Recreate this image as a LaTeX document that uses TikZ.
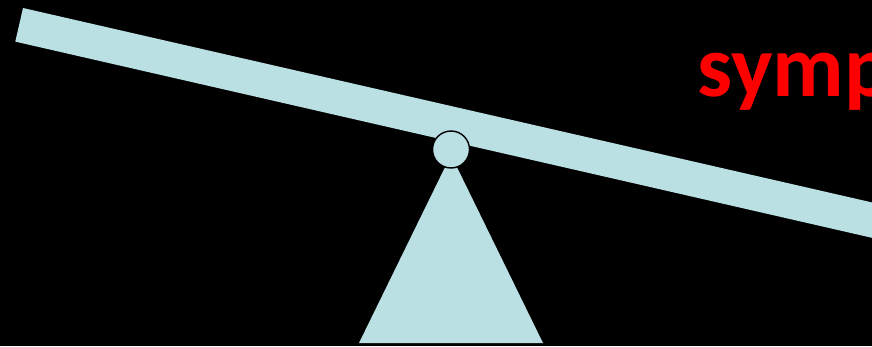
\documentclass[tikz,border=0pt]{standalone}
\usepackage{fontspec}
\setmainfont{Carlito}
\usepackage{xcolor}
\definecolor{plankblue}{RGB}{186,224,228}
\definecolor{wordred}{RGB}{255,0,0}

\begin{document}
\begin{tikzpicture}[x=1pt,y=1pt,
  plank/.style={fill=plankblue},
  pivot/.style={fill=plankblue, draw=black, line width=1.4pt},
  word/.style={font=\fontsize{88}{88}\selectfont\bfseries, text=wordred, inner sep=0pt}]
\useasboundingbox (0,0) rectangle (872,346);
\fill[black] (0,0) rectangle (872,346);
\clip (0,0) rectangle (872,346);

% base and beam
\fill[plank] (359,3) -- (543,3) -- (451,191) -- cycle;
\fill[plank, rotate around={-12.9:(23,338)}] (23,338) rectangle ++(1000,-34.5);
\node[pivot, circle, minimum size=37pt, inner sep=0pt] (hinge) at (451,196.5) {};

\node[word, anchor=base west] (label) at (697,249) {symp};
\end{tikzpicture}
\end{document}
